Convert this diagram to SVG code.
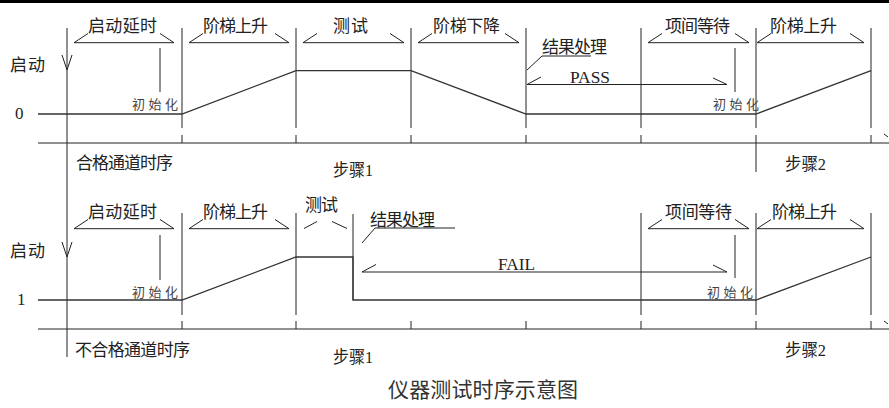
<svg xmlns="http://www.w3.org/2000/svg" width="889" height="408" viewBox="0 0 889 408">
<style>
.ln{stroke:#222;stroke-width:1;fill:none}
.sg{stroke:#333;stroke-width:1.3;fill:none}
.lb{font-family:"Liberation Serif","Noto Sans CJK SC",serif;font-size:17px;fill:#222}
.sm{font-family:"Noto Sans CJK SC","Liberation Sans",sans-serif;font-size:13px;fill:#444;letter-spacing:3.5px}
.ti{font-family:"Noto Sans CJK SC","Liberation Sans",sans-serif;font-size:21px;fill:#333}
</style>
<rect x="0" y="0" width="889" height="3" fill="#000"/>
<g id="connectors">
  <!-- main left vertical -->
  <line class="ln" x1="67" y1="28" x2="67" y2="357"/>
  <!-- top phase lines -->
  <path class="ln" d="M182 28V128M296 28V128M411 28V128M526 28V128M641 28V128M756 28V128M871 28V128"/>
  <!-- top axis and ticks -->
  <path class="ln" d="M38 143H889M182 135V143M296 135V143M411 135V143M526 135V143M641 135V143M756 135V172M871 135V143M884 134L888 137"/>
  <!-- bottom phase lines -->
  <path class="ln" d="M182 213V315M296 213V315M353 214V300M641 213V315M756 213V315M871 213V315"/>
  <!-- bottom axis and ticks -->
  <path class="ln" d="M38 329H889M182 321V329M296 321V329M411 321V329M526 321V329M641 321V329M756 321V329M871 321V329M884 321L888 324"/>
  <!-- start arrows -->
  <path class="ln" d="M62 55L67 70L72 55M62 242L67 257L72 242"/>
  <!-- init leaders -->
  <path class="ln" d="M160 48V92M735 48V92M160 235V280M735 235V278"/>
  <!-- top brackets -->
  <path class="ln" d="M88 33.5L74 42.7H174L160 33.5M203 33.5L189 42.7H289L275 33.5M317 33.5L303 42.7H404L390 33.5M432 33.5L418 42.7H519L505 33.5M662 33.5L648 42.7H749L735 33.5M771 33.5L757 42.7H864L850 33.5"/>
  <!-- bottom brackets -->
  <path class="ln" d="M88 219.5L74 228.7H174L160 219.5M203 219.5L189 228.7H289L275 219.5M662 219.5L648 228.7H749L735 219.5M771 219.5L757 228.7H864L850 219.5M304 228.5L317 221.5M332 221.5L347 228.5"/>
  <!-- result processing leaders and PASS/FAIL spans -->
  <path class="ln" d="M527 70L542 56H591M541 77L527 84.5H727L713 78"/>
  <path class="ln" d="M362 243L375 228H455M376 264.5L362 272H727L713 265"/>
</g>
<g id="signal-pass">
  <polyline class="sg" points="38,114 182,114 296,70.7 411,70.7 526,114 756,114 871,70.7"/>
</g>
<g id="signal-fail">
  <polyline class="sg" points="38,300 182,300 296,257 353,257 353,300 756,300 871,257"/>
</g>
<g id="labels-top">
  <text class="lb" x="10" y="71" textLength="35">启动</text>
  <text class="lb" x="15" y="119">0</text>
  <text class="lb" x="88" y="32" textLength="69">启动延时</text>
  <text class="lb" x="203" y="32" textLength="65">阶梯上升</text>
  <text class="lb" x="333" y="32" textLength="35">测试</text>
  <text class="lb" x="433" y="32" textLength="67">阶梯下降</text>
  <text class="lb" x="665" y="32" textLength="65">项间等待</text>
  <text class="lb" x="770" y="32" textLength="67">阶梯上升</text>
  <text class="lb" x="542" y="53" textLength="65">结果处理</text>
  <text class="lb" x="570" y="83" font-size="18" textLength="40" lengthAdjust="spacingAndGlyphs">PASS</text>
  <text class="sm" x="132" y="109">初始化</text>
  <text class="sm" x="713" y="109">初始化</text>
  <text class="lb" x="76" y="169" textLength="97">合格通道时序</text>
  <text class="lb" x="333" y="176" font-size="16" textLength="40" lengthAdjust="spacingAndGlyphs">步骤1</text>
  <text class="lb" x="785" y="170" font-size="16" textLength="41" lengthAdjust="spacingAndGlyphs">步骤2</text>
</g>
<g id="labels-bottom">
  <text class="lb" x="10" y="257" textLength="35">启动</text>
  <text class="lb" x="17" y="305">1</text>
  <text class="lb" x="88" y="218" textLength="69">启动延时</text>
  <text class="lb" x="203" y="218" textLength="65">阶梯上升</text>
  <text class="lb" x="305" y="211" textLength="33">测试</text>
  <text class="lb" x="370" y="226" textLength="65">结果处理</text>
  <text class="lb" x="665" y="218" textLength="67">项间等待</text>
  <text class="lb" x="772" y="218" textLength="65">阶梯上升</text>
  <text class="lb" x="498" y="270" font-size="18" textLength="37" lengthAdjust="spacingAndGlyphs">FAIL</text>
  <text class="sm" x="132" y="297">初始化</text>
  <text class="sm" x="707" y="297">初始化</text>
  <text class="lb" x="75" y="356" textLength="115">不合格通道时序</text>
  <text class="lb" x="333" y="363" font-size="16" textLength="40" lengthAdjust="spacingAndGlyphs">步骤1</text>
  <text class="lb" x="785" y="356" font-size="16" textLength="41" lengthAdjust="spacingAndGlyphs">步骤2</text>
</g>
<g id="title">
  <text class="ti" x="388" y="397" textLength="190">仪器测试时序示意图</text>
</g>
</svg>
